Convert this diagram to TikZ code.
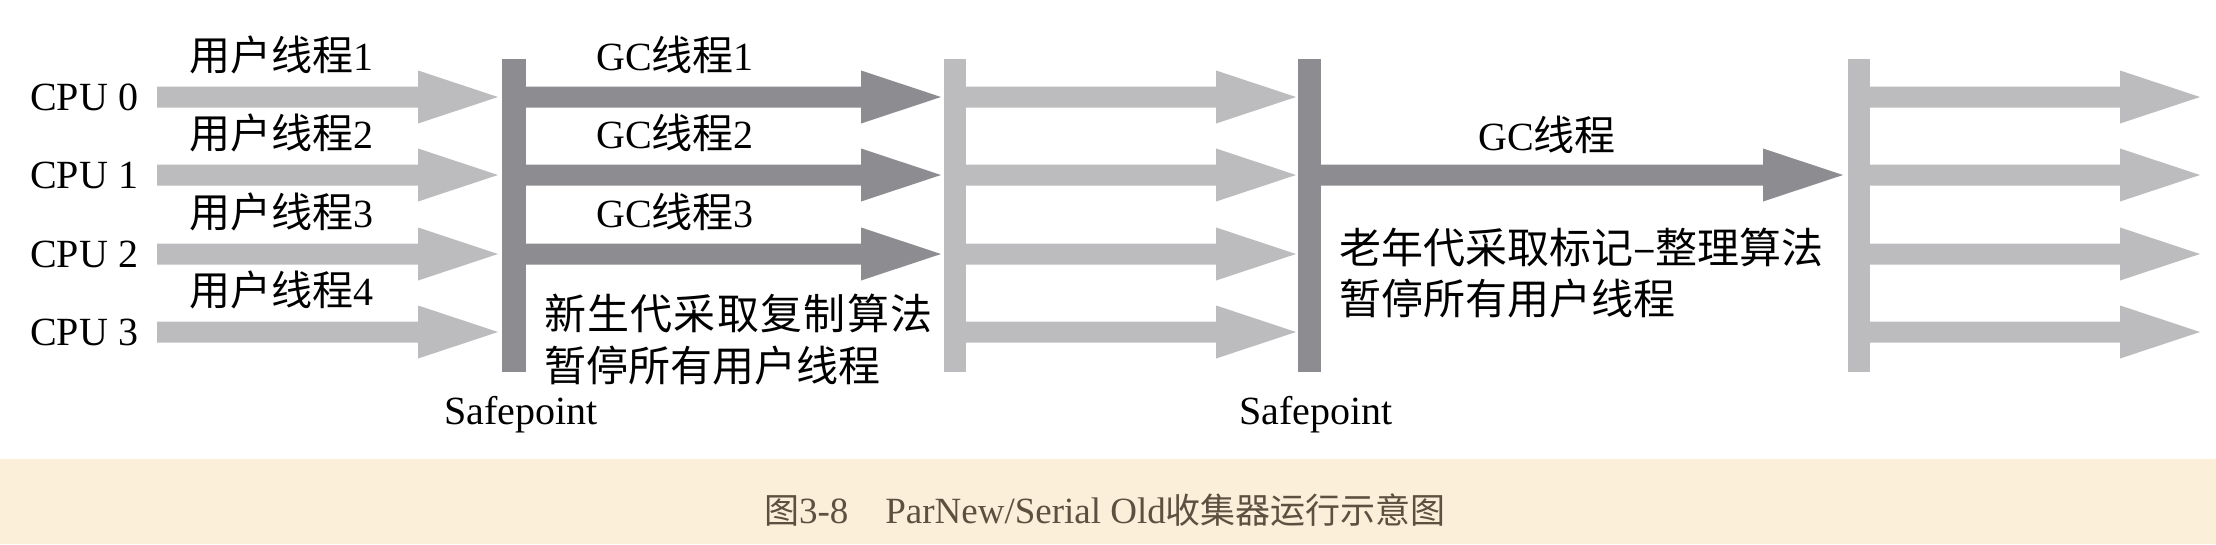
\documentclass[tikz,border=0pt]{standalone}
\usepackage{fontspec}
\setmainfont{Liberation Serif}
\newfontfamily\cjk{Noto Sans CJK SC}
\newfontfamily\cjkwide[LetterSpace=3]{Noto Sans CJK SC}
\definecolor{lightg}{HTML}{BCBCBE}
\definecolor{darkg}{HTML}{8D8D91}
\definecolor{bandc}{HTML}{FBEFDA}
\definecolor{captxt}{HTML}{5E5040}
% fat arrow: start x, tip x, y, colour
\newcommand\fatarrow[4]{%
  \fill[#4] (#1,#3-10.5) -- (#2-80,#3-10.5) -- (#2-80,#3-26.5) -- (#2,#3)
    -- (#2-80,#3+26.5) -- (#2-80,#3+10.5) -- (#1,#3+10.5) -- cycle;}
% vertical bar: left x, right x, colour
\newcommand\sbar[3]{\fill[#3] (#1,59) rectangle (#2,372);}
\tikzset{
  lat/.style={inner sep=0pt, font=\fontsize{40}{48}\selectfont},
  cjklbl/.style={inner sep=0pt, font=\cjk\fontsize{42}{50}\selectfont},
}
\newcommand\cj[1]{{\cjk\fontsize{41}{48}\selectfont #1}}
\begin{document}
\begin{tikzpicture}[x=1pt,y=-1pt]
\useasboundingbox (0,0) rectangle (2216,544);
\fill[white] (0,0) rectangle (2216,459);
\fill[bandc] (0,459) rectangle (2216,544);

% rows
\foreach \r/\y in {0/97,1/175,2/254,3/332}{
  \node[lat, anchor=base west] (cpu\r) at (30,\y+13) {CPU \r};
  \fatarrow{157}{498}{\y}{lightg}
  \fatarrow{966}{1296}{\y}{lightg}
  \fatarrow{1870}{2200}{\y}{lightg}
}
\foreach \r/\y in {0/97,1/175,2/254}{
  \fatarrow{526}{941}{\y}{darkg}
}
\fatarrow{1321}{1843}{175}{darkg}

% bars
\sbar{502}{526}{darkg}
\sbar{944}{966}{lightg}
\sbar{1298}{1321}{darkg}
\sbar{1848}{1870}{lightg}

% user-thread labels
\node[lat, anchor=base west] (u1) at (189,70) {\cj{用户线程}1};
\node[lat, anchor=base west] (u2) at (189,148) {\cj{用户线程}2};
\node[lat, anchor=base west] (u3) at (189,227) {\cj{用户线程}3};
\node[lat, anchor=base west] (u4) at (189,305) {\cj{用户线程}4};

% GC labels
\node[lat, anchor=base west] (g1) at (596,70) {GC\cj{线程}1};
\node[lat, anchor=base west] (g2) at (596,148) {GC\cj{线程}2};
\node[lat, anchor=base west] (g3) at (596,227) {GC\cj{线程}3};
\node[lat, anchor=base west] (g4) at (1478,150) {GC\cj{线程}};

% notes
\node[inner sep=0pt, anchor=base west, font=\cjkwide\fontsize{42}{50}\selectfont] (n1) at (544,329) {新生代采取复制算法};
\node[cjklbl, anchor=base west] (n2) at (544,381) {暂停所有用户线程};
\node[cjklbl, anchor=base west] (n3) at (1339,263) {老年代采取标记–整理算法};
\node[cjklbl, anchor=base west] (n4) at (1339,314) {暂停所有用户线程};

% safepoints
\node[lat, anchor=base] (s1) at (521,424) {Safepoint};
\node[lat, anchor=base] (s2) at (1316,424) {Safepoint};

% caption
\node[inner sep=0pt, anchor=base, text=captxt, font=\fontsize{37}{42}\selectfont] (cap) at (1105,523)
  {{\cjk\fontsize{35}{42}\selectfont 图}3-8\quad ParNew/Serial Old{\cjk\fontsize{35}{42}\selectfont 收集器运行示意图}};
\end{tikzpicture}
\end{document}
